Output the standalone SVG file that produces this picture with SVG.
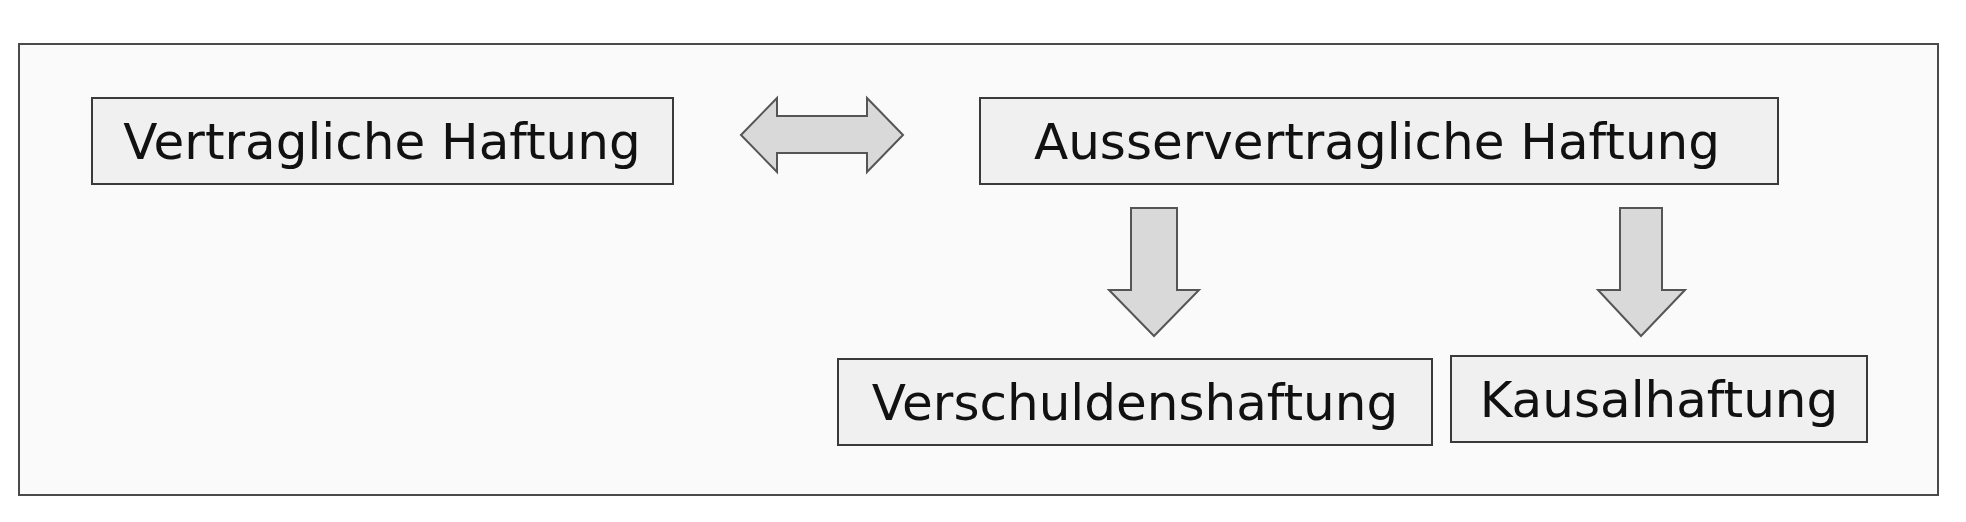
<svg xmlns="http://www.w3.org/2000/svg" width="1966" height="522" viewBox="0 0 1966 522">
<style>
.frame{fill:#fafafa;stroke:#4a4a4a;stroke-width:2}
.box{fill:#f0f0f0;stroke:#3a3a3a;stroke-width:2}
.lbl{font-family:"DejaVu Sans","Verdana",sans-serif;font-size:50px;fill:#111;text-anchor:middle}
.arr{fill:#d9d9d9;stroke:#555;stroke-width:2;stroke-linejoin:miter}
</style>
<rect width="1966" height="522" fill="#ffffff"/>
<rect class="frame" x="19" y="44" width="1919" height="451"/>
<g id="connectors">
<polygon class="arr" points="741,135 777,98 777,116 867,116 867,98 903,135 867,172 867,153 777,153 777,172"/>
<polygon class="arr" points="1131,208 1177,208 1177,290 1199,290 1154,336 1109,290 1131,290"/>
<polygon class="arr" points="1620,208 1662,208 1662,290 1685,290 1641,336 1598,290 1620,290"/>
</g>
<g id="vertragliche">
<rect class="box" x="92" y="98" width="581" height="86"/>
<text class="lbl" x="382" y="159">Vertragliche Haftung</text>
</g>
<g id="ausservertragliche">
<rect class="box" x="980" y="98" width="798" height="86"/>
<text class="lbl" x="1377" y="159">Ausservertragliche Haftung</text>
</g>
<g id="verschuldenshaftung">
<rect class="box" x="838" y="359" width="594" height="86"/>
<text class="lbl" x="1135" y="420">Verschuldenshaftung</text>
</g>
<g id="kausalhaftung">
<rect class="box" x="1451" y="356" width="416" height="86"/>
<text class="lbl" x="1659" y="417">Kausalhaftung</text>
</g>
</svg>
